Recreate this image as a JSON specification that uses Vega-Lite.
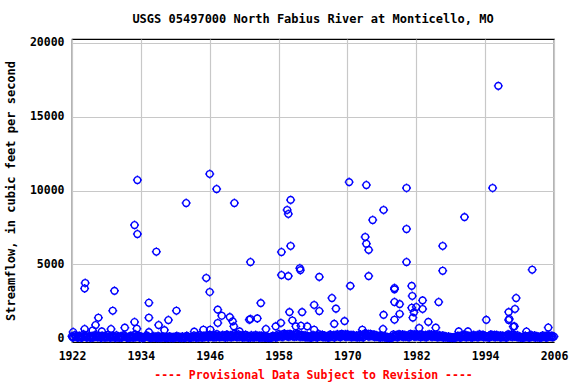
{
  "$schema": "https://vega.github.io/schema/vega-lite/v6.json",
  "width": 482,
  "height": 303,
  "autosize": "none",
  "padding": {"left": 72, "top": 39, "right": 22, "bottom": 42},
  "background": "white",
  "config": {"view": {"stroke": "black", "strokeWidth": 1.2}},
  "title": {"text": "USGS 05497000 North Fabius River at Monticello, MO", "font": "DejaVu Sans Mono", "fontSize": 12, "fontWeight": "bold", "color": "black", "anchor": "middle", "offset": 11},
  "data": {"values": [
    {"t":1922.2,"q":407},{"t":1924.2,"q":610},{"t":1924.3,"q":3730},{"t":1924.2,"q":3360},{"t":1925.6,"q":515},{"t":1926.1,"q":880},{"t":1926.6,"q":1375},{"t":1927.2,"q":450},{"t":1928.8,"q":610},{"t":1929.1,"q":1850},{"t":1929.4,"q":3200},{"t":1931.2,"q":700},{"t":1932.9,"q":1085},{"t":1932.9,"q":7660},{"t":1933.4,"q":7050},{"t":1933.4,"q":10710},{"t":1933.3,"q":630},{"t":1935.4,"q":2390},{"t":1935.4,"q":1375},{"t":1935.4,"q":400},{"t":1936.7,"q":5850},{"t":1937.1,"q":880},{"t":1938.1,"q":540},{"t":1938.8,"q":1220},{"t":1940.2,"q":1850},{"t":1941.9,"q":9150},{"t":1943.3,"q":430},{"t":1944.9,"q":560},{"t":1945.4,"q":4070},{"t":1946.0,"q":3120},{"t":1946.0,"q":11120},{"t":1946.1,"q":560},{"t":1947.2,"q":10100},{"t":1947.4,"q":1920},{"t":1947.4,"q":1020},{"t":1948.1,"q":1510},{"t":1949.5,"q":1420},{"t":1950.0,"q":1130},{"t":1950.2,"q":790},{"t":1950.3,"q":9150},{"t":1951.2,"q":450},{"t":1952.9,"q":1240},{"t":1953.1,"q":5150},{"t":1953.1,"q":1290},{"t":1954.3,"q":1330},{"t":1954.9,"q":2370},{"t":1955.8,"q":610},{"t":1957.5,"q":790},{"t":1958.4,"q":1020},{"t":1958.5,"q":5830},{"t":1958.5,"q":4270},{"t":1959.7,"q":4200},{"t":1959.5,"q":8680},{"t":1959.7,"q":8410},{"t":1960.1,"q":9360},{"t":1960.1,"q":6240},{"t":1959.9,"q":1760},{"t":1960.4,"q":1190},{"t":1961.0,"q":790},{"t":1961.7,"q":4730},{"t":1961.8,"q":4600},{"t":1961.9,"q":830},{"t":1962.1,"q":1760},{"t":1963.0,"q":790},{"t":1964.2,"q":2240},{"t":1964.2,"q":560},{"t":1965.1,"q":4140},{"t":1965.1,"q":1830},{"t":1967.3,"q":2710},{"t":1968.0,"q":1990},{"t":1967.7,"q":960},{"t":1969.5,"q":1150},{"t":1970.3,"q":10570},{"t":1970.5,"q":3530},{"t":1972.6,"q":560},{"t":1973.3,"q":10370},{"t":1973.1,"q":6850},{"t":1973.3,"q":6390},{"t":1973.7,"q":5970},{"t":1973.7,"q":4200},{"t":1974.4,"q":8000},{"t":1976.3,"q":8680},{"t":1976.3,"q":1570},{"t":1976.2,"q":610},{"t":1978.2,"q":3390},{"t":1978.2,"q":3300},{"t":1978.2,"q":2440},{"t":1978.2,"q":1240},{"t":1979.1,"q":2300},{"t":1979.1,"q":1630},{"t":1980.3,"q":10170},{"t":1980.3,"q":7390},{"t":1980.3,"q":5150},{"t":1981.2,"q":3530},{"t":1981.3,"q":2850},{"t":1981.4,"q":1380},{"t":1981.2,"q":2050},{"t":1981.6,"q":1740},{"t":1982.0,"q":2100},{"t":1982.5,"q":680},{"t":1983.1,"q":2550},{"t":1983.1,"q":1970},{"t":1984.1,"q":1090},{"t":1985.4,"q":700},{"t":1985.9,"q":2440},{"t":1986.6,"q":6240},{"t":1986.6,"q":4560},{"t":1989.4,"q":450},{"t":1990.4,"q":8200},{"t":1991.0,"q":450},{"t":1994.2,"q":1230},{"t":1995.3,"q":10170},{"t":1996.3,"q":17090},{"t":1998.1,"q":1760},{"t":1998.1,"q":1220},{"t":1998.2,"q":1290},{"t":1999.1,"q":790},{"t":1999.2,"q":1970},{"t":1999.4,"q":2710},{"t":1998.9,"q":770},{"t":2001.2,"q":440},{"t":2002.2,"q":4630},{"t":2005.0,"q":710},
    {"t":1922,"q":120},{"t":1922.25,"q":60},{"t":1922.5,"q":200},{"t":1922.75,"q":80},
    {"t":1923,"q":30},{"t":1923.25,"q":150},{"t":1923.5,"q":90},{"t":1923.75,"q":40},
    {"t":1924,"q":250},{"t":1924.25,"q":110},{"t":1924.5,"q":60},{"t":1924.75,"q":180},
    {"t":1925,"q":70},{"t":1925.25,"q":20},{"t":1925.5,"q":140},{"t":1925.75,"q":90},
    {"t":1926,"q":200},{"t":1926.25,"q":130},{"t":1926.5,"q":50},{"t":1926.75,"q":100},
    {"t":1927,"q":40},{"t":1927.25,"q":160},{"t":1927.5,"q":80},{"t":1927.75,"q":30},
    {"t":1928,"q":110},{"t":1928.25,"q":220},{"t":1928.5,"q":60},{"t":1928.75,"q":20},
    {"t":1929,"q":150},{"t":1929.25,"q":90},{"t":1929.5,"q":40},{"t":1929.75,"q":180},
    {"t":1930,"q":60},{"t":1930.25,"q":30},{"t":1930.5,"q":120},{"t":1930.75,"q":70},
    {"t":1931,"q":200},{"t":1931.25,"q":100},{"t":1931.5,"q":40},{"t":1931.75,"q":20},
    {"t":1932,"q":90},{"t":1932.25,"q":160},{"t":1932.5,"q":60},{"t":1932.75,"q":30},
    {"t":1933,"q":250},{"t":1933.25,"q":130},{"t":1933.5,"q":80},{"t":1933.75,"q":40},
    {"t":1934,"q":100},{"t":1934.25,"q":50},{"t":1934.5,"q":20},{"t":1934.75,"q":70},
    {"t":1935,"q":180},{"t":1935.25,"q":90},{"t":1935.5,"q":40},{"t":1935.75,"q":20},
    {"t":1936,"q":60},{"t":1936.25,"q":120},{"t":1936.5,"q":30},{"t":1936.75,"q":10},
    {"t":1937,"q":140},{"t":1937.25,"q":70},{"t":1937.5,"q":20},{"t":1937.75,"q":50},
    {"t":1938,"q":90},{"t":1938.25,"q":40},{"t":1938.5,"q":10},{"t":1938.75,"q":30},
    {"t":1939,"q":110},{"t":1939.25,"q":60},{"t":1939.5,"q":20},{"t":1939.75,"q":10},
    {"t":1940,"q":80},{"t":1940.25,"q":130},{"t":1940.5,"q":40},{"t":1940.75,"q":20},
    {"t":1941,"q":50},{"t":1941.25,"q":100},{"t":1941.5,"q":30},{"t":1941.75,"q":10},
    {"t":1942,"q":150},{"t":1942.25,"q":60},{"t":1942.5,"q":20},{"t":1942.75,"q":40},
    {"t":1943,"q":90},{"t":1943.25,"q":170},{"t":1943.5,"q":50},{"t":1943.75,"q":20},
    {"t":1944,"q":120},{"t":1944.25,"q":200},{"t":1944.5,"q":60},{"t":1944.75,"q":30},
    {"t":1945,"q":160},{"t":1945.25,"q":80},{"t":1945.5,"q":110},{"t":1945.75,"q":40},
    {"t":1946,"q":220},{"t":1946.25,"q":140},{"t":1946.5,"q":70},{"t":1946.75,"q":50},
    {"t":1947,"q":180},{"t":1947.25,"q":260},{"t":1947.5,"q":90},{"t":1947.75,"q":60},
    {"t":1948,"q":130},{"t":1948.25,"q":200},{"t":1948.5,"q":70},{"t":1948.75,"q":40},
    {"t":1949,"q":230},{"t":1949.25,"q":150},{"t":1949.5,"q":80},{"t":1949.75,"q":50},
    {"t":1950,"q":170},{"t":1950.25,"q":280},{"t":1950.5,"q":100},{"t":1950.75,"q":60},
    {"t":1951,"q":250},{"t":1951.25,"q":160},{"t":1951.5,"q":90},{"t":1951.75,"q":40},
    {"t":1952,"q":140},{"t":1952.25,"q":220},{"t":1952.5,"q":70},{"t":1952.75,"q":30},
    {"t":1953,"q":100},{"t":1953.25,"q":180},{"t":1953.5,"q":60},{"t":1953.75,"q":40},
    {"t":1954,"q":200},{"t":1954.25,"q":130},{"t":1954.5,"q":50},{"t":1954.75,"q":20},
    {"t":1955,"q":160},{"t":1955.25,"q":90},{"t":1955.5,"q":40},{"t":1955.75,"q":30},
    {"t":1956,"q":80},{"t":1956.25,"q":50},{"t":1956.5,"q":20},{"t":1956.75,"q":10},
    {"t":1957,"q":150},{"t":1957.25,"q":100},{"t":1957.5,"q":40},{"t":1957.75,"q":60},
    {"t":1958,"q":260},{"t":1958.25,"q":180},{"t":1958.5,"q":90},{"t":1958.75,"q":70},
    {"t":1959,"q":300},{"t":1959.25,"q":220},{"t":1959.5,"q":120},{"t":1959.75,"q":80},
    {"t":1960,"q":280},{"t":1960.25,"q":200},{"t":1960.5,"q":110},{"t":1960.75,"q":90},
    {"t":1961,"q":240},{"t":1961.25,"q":300},{"t":1961.5,"q":130},{"t":1961.75,"q":70},
    {"t":1962,"q":220},{"t":1962.25,"q":160},{"t":1962.5,"q":80},{"t":1962.75,"q":50},
    {"t":1963,"q":150},{"t":1963.25,"q":100},{"t":1963.5,"q":40},{"t":1963.75,"q":30},
    {"t":1964,"q":200},{"t":1964.25,"q":140},{"t":1964.5,"q":70},{"t":1964.75,"q":40},
    {"t":1965,"q":260},{"t":1965.25,"q":190},{"t":1965.5,"q":100},{"t":1965.75,"q":60},
    {"t":1966,"q":170},{"t":1966.25,"q":120},{"t":1966.5,"q":50},{"t":1966.75,"q":30},
    {"t":1967,"q":230},{"t":1967.25,"q":160},{"t":1967.5,"q":80},{"t":1967.75,"q":40},
    {"t":1968,"q":190},{"t":1968.25,"q":250},{"t":1968.5,"q":100},{"t":1968.75,"q":60},
    {"t":1969,"q":280},{"t":1969.25,"q":210},{"t":1969.5,"q":120},{"t":1969.75,"q":70},
    {"t":1970,"q":250},{"t":1970.25,"q":180},{"t":1970.5,"q":90},{"t":1970.75,"q":60},
    {"t":1971,"q":200},{"t":1971.25,"q":140},{"t":1971.5,"q":70},{"t":1971.75,"q":50},
    {"t":1972,"q":160},{"t":1972.25,"q":230},{"t":1972.5,"q":90},{"t":1972.75,"q":40},
    {"t":1973,"q":300},{"t":1973.25,"q":260},{"t":1973.5,"q":150},{"t":1973.75,"q":90},
    {"t":1974,"q":280},{"t":1974.25,"q":200},{"t":1974.5,"q":120},{"t":1974.75,"q":70},
    {"t":1975,"q":190},{"t":1975.25,"q":140},{"t":1975.5,"q":60},{"t":1975.75,"q":40},
    {"t":1976,"q":150},{"t":1976.25,"q":100},{"t":1976.5,"q":50},{"t":1976.75,"q":30},
    {"t":1977,"q":60},{"t":1977.25,"q":40},{"t":1977.5,"q":20},{"t":1977.75,"q":10},
    {"t":1978,"q":240},{"t":1978.25,"q":180},{"t":1978.5,"q":90},{"t":1978.75,"q":50},
    {"t":1979,"q":260},{"t":1979.25,"q":200},{"t":1979.5,"q":110},{"t":1979.75,"q":70},
    {"t":1980,"q":200},{"t":1980.25,"q":150},{"t":1980.5,"q":80},{"t":1980.75,"q":50},
    {"t":1981,"q":280},{"t":1981.25,"q":220},{"t":1981.5,"q":130},{"t":1981.75,"q":80},
    {"t":1982,"q":250},{"t":1982.25,"q":190},{"t":1982.5,"q":100},{"t":1982.75,"q":60},
    {"t":1983,"q":230},{"t":1983.25,"q":170},{"t":1983.5,"q":90},{"t":1983.75,"q":50},
    {"t":1984,"q":200},{"t":1984.25,"q":250},{"t":1984.5,"q":120},{"t":1984.75,"q":70},
    {"t":1985,"q":220},{"t":1985.25,"q":160},{"t":1985.5,"q":80},{"t":1985.75,"q":50},
    {"t":1986,"q":190},{"t":1986.25,"q":140},{"t":1986.5,"q":70},{"t":1986.75,"q":40},
    {"t":1987,"q":120},{"t":1987.25,"q":80},{"t":1987.5,"q":40},{"t":1987.75,"q":30},
    {"t":1988,"q":60},{"t":1988.25,"q":40},{"t":1988.5,"q":20},{"t":1988.75,"q":10},
    {"t":1989,"q":110},{"t":1989.25,"q":150},{"t":1989.5,"q":60},{"t":1989.75,"q":30},
    {"t":1990,"q":180},{"t":1990.25,"q":220},{"t":1990.5,"q":90},{"t":1990.75,"q":50},
    {"t":1991,"q":160},{"t":1991.25,"q":120},{"t":1991.5,"q":60},{"t":1991.75,"q":40},
    {"t":1992,"q":200},{"t":1992.25,"q":150},{"t":1992.5,"q":80},{"t":1992.75,"q":50},
    {"t":1993,"q":250},{"t":1993.25,"q":190},{"t":1993.5,"q":100},{"t":1993.75,"q":60},
    {"t":1994,"q":150},{"t":1994.25,"q":110},{"t":1994.5,"q":50},{"t":1994.75,"q":40},
    {"t":1995,"q":230},{"t":1995.25,"q":180},{"t":1995.5,"q":90},{"t":1995.75,"q":60},
    {"t":1996,"q":200},{"t":1996.25,"q":150},{"t":1996.5,"q":70},{"t":1996.75,"q":40},
    {"t":1997,"q":160},{"t":1997.25,"q":120},{"t":1997.5,"q":60},{"t":1997.75,"q":30},
    {"t":1998,"q":250},{"t":1998.25,"q":200},{"t":1998.5,"q":100},{"t":1998.75,"q":70},
    {"t":1999,"q":220},{"t":1999.25,"q":170},{"t":1999.5,"q":80},{"t":1999.75,"q":50},
    {"t":2000,"q":100},{"t":2000.25,"q":60},{"t":2000.5,"q":30},{"t":2000.75,"q":20},
    {"t":2001,"q":150},{"t":2001.25,"q":110},{"t":2001.5,"q":50},{"t":2001.75,"q":30},
    {"t":2002,"q":200},{"t":2002.25,"q":140},{"t":2002.5,"q":70},{"t":2002.75,"q":40},
    {"t":2003,"q":120},{"t":2003.25,"q":80},{"t":2003.5,"q":40},{"t":2003.75,"q":20},
    {"t":2004,"q":170},{"t":2004.25,"q":130},{"t":2004.5,"q":60},{"t":2004.75,"q":30},
    {"t":2005,"q":180},{"t":2005.25,"q":120},{"t":2005.5,"q":90},{"t":2005.75,"q":60},
    {"t":2006,"q":100},
    {"t":1922.125,"q":40},{"t":1922.625,"q":110},{"t":1923.125,"q":70},{"t":1923.625,"q":20},
    {"t":1924.125,"q":150},{"t":1924.625,"q":40},{"t":1925.125,"q":90},{"t":1925.625,"q":30},
    {"t":1926.125,"q":80},{"t":1926.625,"q":160},{"t":1927.125,"q":20},{"t":1927.625,"q":100},
    {"t":1928.125,"q":50},{"t":1928.625,"q":130},{"t":1929.125,"q":70},{"t":1929.625,"q":20},
    {"t":1930.125,"q":100},{"t":1930.625,"q":30},{"t":1931.125,"q":140},{"t":1931.625,"q":60},
    {"t":1932.125,"q":30},{"t":1932.625,"q":110},{"t":1933.125,"q":60},{"t":1933.625,"q":160},
    {"t":1934.125,"q":20},{"t":1934.625,"q":60},{"t":1935.125,"q":110},{"t":1935.625,"q":30},
    {"t":1936.125,"q":40},{"t":1936.625,"q":80},{"t":1937.125,"q":20},{"t":1937.625,"q":90},
    {"t":1938.125,"q":30},{"t":1938.625,"q":60},{"t":1939.125,"q":20},{"t":1939.625,"q":70},
    {"t":1940.125,"q":40},{"t":1940.625,"q":90},{"t":1941.125,"q":20},{"t":1941.625,"q":60},
    {"t":1942.125,"q":100},{"t":1942.625,"q":30},{"t":1943.125,"q":60},{"t":1943.625,"q":120},
    {"t":1944.125,"q":40},{"t":1944.625,"q":140},{"t":1945.125,"q":70},{"t":1945.625,"q":180},
    {"t":1946.125,"q":90},{"t":1946.625,"q":200},{"t":1947.125,"q":60},{"t":1947.625,"q":150},
    {"t":1948.125,"q":80},{"t":1948.625,"q":170},{"t":1949.125,"q":60},{"t":1949.625,"q":190},
    {"t":1950.125,"q":90},{"t":1950.625,"q":220},{"t":1951.125,"q":70},{"t":1951.625,"q":180},
    {"t":1952.125,"q":50},{"t":1952.625,"q":150},{"t":1953.125,"q":40},{"t":1953.625,"q":130},
    {"t":1954.125,"q":70},{"t":1954.625,"q":160},{"t":1955.125,"q":40},{"t":1955.625,"q":110},
    {"t":1956.125,"q":20},{"t":1956.625,"q":60},{"t":1957.125,"q":80},{"t":1957.625,"q":170},
    {"t":1958.125,"q":120},{"t":1958.625,"q":240},{"t":1959.125,"q":150},{"t":1959.625,"q":260},
    {"t":1960.125,"q":140},{"t":1960.625,"q":230},{"t":1961.125,"q":100},{"t":1961.625,"q":210},
    {"t":1962.125,"q":90},{"t":1962.625,"q":180},{"t":1963.125,"q":50},{"t":1963.625,"q":120},
    {"t":1964.125,"q":80},{"t":1964.625,"q":170},{"t":1965.125,"q":110},{"t":1965.625,"q":220},
    {"t":1966.125,"q":60},{"t":1966.625,"q":140},{"t":1967.125,"q":90},{"t":1967.625,"q":200},
    {"t":1968.125,"q":120},{"t":1968.625,"q":210},{"t":1969.125,"q":130},{"t":1969.625,"q":250},
    {"t":1970.125,"q":110},{"t":1970.625,"q":200},{"t":1971.125,"q":80},{"t":1971.625,"q":170},
    {"t":1972.125,"q":60},{"t":1972.625,"q":190},{"t":1973.125,"q":170},{"t":1973.625,"q":280},
    {"t":1974.125,"q":130},{"t":1974.625,"q":230},{"t":1975.125,"q":80},{"t":1975.625,"q":160},
    {"t":1976.125,"q":60},{"t":1976.625,"q":120},{"t":1977.125,"q":20},{"t":1977.625,"q":50},
    {"t":1978.125,"q":110},{"t":1978.625,"q":210},{"t":1979.125,"q":130},{"t":1979.625,"q":230},
    {"t":1980.125,"q":90},{"t":1980.625,"q":180},{"t":1981.125,"q":140},{"t":1981.625,"q":250},
    {"t":1982.125,"q":120},{"t":1982.625,"q":220},{"t":1983.125,"q":100},{"t":1983.625,"q":200},
    {"t":1984.125,"q":130},{"t":1984.625,"q":230},{"t":1985.125,"q":100},{"t":1985.625,"q":190},
    {"t":1986.125,"q":80},{"t":1986.625,"q":170},{"t":1987.125,"q":50},{"t":1987.625,"q":100},
    {"t":1988.125,"q":20},{"t":1988.625,"q":50},{"t":1989.125,"q":70},{"t":1989.625,"q":130},
    {"t":1990.125,"q":100},{"t":1990.625,"q":200},{"t":1991.125,"q":80},{"t":1991.625,"q":140},
    {"t":1992.125,"q":90},{"t":1992.625,"q":180},{"t":1993.125,"q":120},{"t":1993.625,"q":220},
    {"t":1994.125,"q":70},{"t":1994.625,"q":130},{"t":1995.125,"q":110},{"t":1995.625,"q":210},
    {"t":1996.125,"q":90},{"t":1996.625,"q":170},{"t":1997.125,"q":70},{"t":1997.625,"q":140},
    {"t":1998.125,"q":130},{"t":1998.625,"q":230},{"t":1999.125,"q":100},{"t":1999.625,"q":190},
    {"t":2000.125,"q":40},{"t":2000.625,"q":80},{"t":2001.125,"q":70},{"t":2001.625,"q":130},
    {"t":2002.125,"q":90},{"t":2002.625,"q":170},{"t":2003.125,"q":50},{"t":2003.625,"q":100},
    {"t":2004.125,"q":80},{"t":2004.625,"q":150},{"t":2005.125,"q":100},{"t":2005.625,"q":160}
  ]},
  "mark": {"type": "point", "shape": "M0.75,0A0.75,0.75 0 1,1 -0.75,0A0.75,0.75 0 1,1 0.75,0M0,-1L0,-0.75M0,0.75L0,1M-1,0L-0.75,0M0.75,0L1,0", "size": 81, "filled": false, "stroke": "#0000FF", "strokeWidth": 1.4, "opacity": 1},
  "encoding": {
    "x": {"field": "t", "type": "quantitative",
      "scale": {"domain": [1922, 2006], "nice": false, "zero": false},
      "axis": {"values": [1922, 1934, 1946, 1958, 1970, 1982, 1994, 2006], "format": "d", "grid": true, "gridColor": "#C8C8C8", "gridWidth": 1.2, "ticks": false, "domain": false, "labelFont": "DejaVu Sans Mono", "labelFontWeight": "bold", "labelFontSize": 11.5, "labelColor": "black", "labelPadding": 8, "labelFlush": false, "labelOverlap": false,
        "title": "---- Provisional Data Subject to Revision ----", "titleFont": "DejaVu Sans Mono", "titleFontWeight": "bold", "titleFontSize": 11.5, "titleColor": "#FF0000", "titlePadding": 8}},
    "y": {"field": "q", "type": "quantitative",
      "scale": {"domain": [-270, 20270], "nice": false, "zero": false},
      "axis": {"values": [0, 5000, 10000, 15000, 20000], "format": "d", "grid": true, "gridColor": "#C8C8C8", "gridWidth": 1.2, "ticks": false, "domain": false, "labelFont": "DejaVu Sans Mono", "labelFontWeight": "bold", "labelFontSize": 11.5, "labelColor": "black", "labelPadding": 8, "labelFlush": false,
        "title": "Streamflow, in cubic feet per second", "titleFont": "DejaVu Sans Mono", "titleFontWeight": "bold", "titleFontSize": 12, "titleColor": "black", "titlePadding": 12}}
  }
}
